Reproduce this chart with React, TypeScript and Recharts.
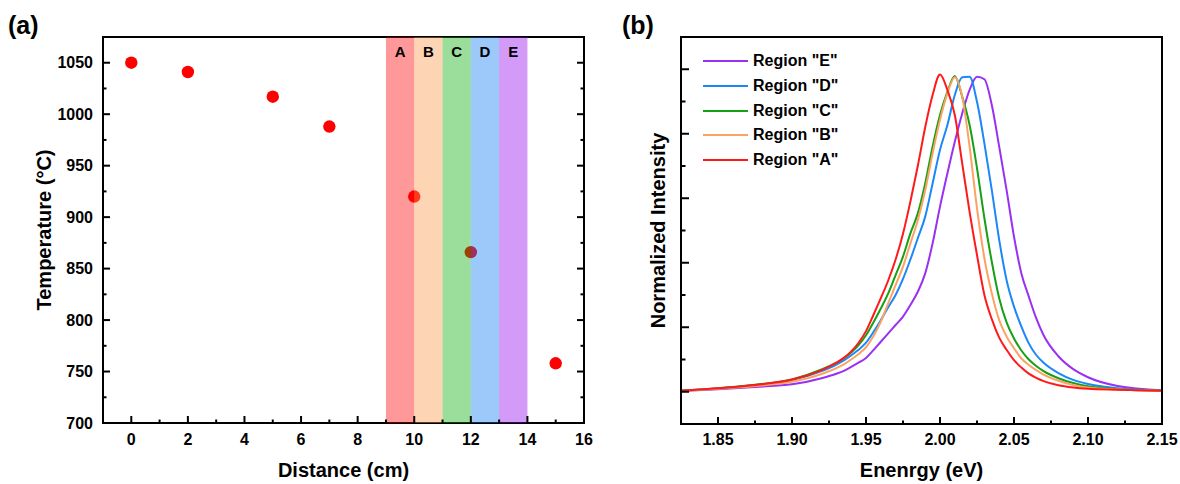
import React from 'react';
import { ScatterChart, Scatter, XAxis, YAxis, ReferenceArea, LineChart, Line, Legend } from 'recharts';

// ---------- Panel (a) data ----------
const distances = [0, 2, 5, 7, 10, 12, 15];
const temperatures = [1050, 1041, 1017, 988, 920, 866, 758];
const bandNames = ['A', 'B', 'C', 'D', 'E'];
const bandStarts = [9, 10, 11, 12, 13];
const bandEnds = [10, 11, 12, 13, 14];
const bandColors = ['#ff0000', '#fa9646', '#05aa05', '#0a75f2', '#9302eb'];
const distanceTicks = [-1, 0, 1, 2, 3, 4, 5, 6, 7, 8, 9, 10, 11, 12, 13, 14, 15, 16];
const temperatureTicks = [700, 725, 750, 775, 800, 825, 850, 875, 900, 925, 950, 975, 1000, 1025, 1050, 1075];

// ---------- Panel (b) data ----------
const energies = [1.825, 1.85, 1.875, 1.9, 1.92, 1.93, 1.935, 1.94, 1.945, 1.95, 1.955, 1.96, 1.965, 1.97, 1.975, 1.98, 1.985, 1.99, 1.995, 2.0, 2.005, 2.01, 2.015, 2.02, 2.025, 2.03, 2.035, 2.04, 2.045, 2.05, 2.055, 2.06, 2.065, 2.07, 2.08, 2.09, 2.1, 2.12, 2.15];
const regionA = [0.003, 0.011, 0.021, 0.038, 0.067, 0.09, 0.105, 0.125, 0.152, 0.188, 0.238, 0.29, 0.345, 0.41, 0.49, 0.59, 0.70, 0.82, 0.92, 0.984, 0.936, 0.858, 0.708, 0.558, 0.424, 0.30, 0.225, 0.168, 0.13, 0.098, 0.075, 0.056, 0.043, 0.033, 0.02, 0.013, 0.009, 0.006, 0.003];
const regionB = [0.002, 0.009, 0.018, 0.031, 0.055, 0.073, 0.085, 0.1, 0.117, 0.138, 0.172, 0.217, 0.274, 0.331, 0.388, 0.46, 0.532, 0.625, 0.739, 0.843, 0.925, 0.975, 0.915, 0.76, 0.569, 0.414, 0.305, 0.222, 0.171, 0.135, 0.103, 0.083, 0.067, 0.053, 0.034, 0.021, 0.013, 0.007, 0.003];
const regionC = [0.003, 0.011, 0.022, 0.038, 0.069, 0.09, 0.104, 0.122, 0.145, 0.175, 0.215, 0.258, 0.305, 0.362, 0.419, 0.491, 0.553, 0.646, 0.76, 0.858, 0.93, 0.979, 0.915, 0.827, 0.693, 0.538, 0.403, 0.29, 0.215, 0.165, 0.128, 0.1, 0.08, 0.064, 0.042, 0.027, 0.017, 0.008, 0.003];
const regionD = [0.003, 0.01, 0.02, 0.036, 0.064, 0.084, 0.097, 0.113, 0.13, 0.152, 0.185, 0.222, 0.262, 0.3, 0.35, 0.41, 0.476, 0.543, 0.646, 0.75, 0.827, 0.92, 0.975, 0.977, 0.899, 0.77, 0.625, 0.471, 0.346, 0.264, 0.202, 0.15, 0.114, 0.09, 0.058, 0.037, 0.024, 0.011, 0.004];
const regionE = [0.002, 0.008, 0.015, 0.023, 0.042, 0.056, 0.065, 0.077, 0.09, 0.105, 0.129, 0.155, 0.181, 0.207, 0.233, 0.269, 0.31, 0.367, 0.46, 0.574, 0.677, 0.775, 0.863, 0.936, 0.977, 0.969, 0.889, 0.76, 0.625, 0.481, 0.367, 0.295, 0.228, 0.175, 0.11, 0.07, 0.045, 0.018, 0.005];
const seriesKeys = ['E', 'D', 'C', 'B', 'A'];
const seriesNames = ['Region "E"', 'Region "D"', 'Region "C"', 'Region "B"', 'Region "A"'];
const seriesColors = ['#9a30f2', '#1a88f8', '#16a016', '#fba264', '#ff1a1a'];
const energyTicks = [1.825, 1.85, 1.875, 1.9, 1.925, 1.95, 1.975, 2.0, 2.025, 2.05, 2.075, 2.1, 2.125, 2.15];
const intensityTicks = [0, 0.1, 0.2, 0.3, 0.4, 0.5, 0.6, 0.7, 0.8, 0.9, 1.0];

const scatterData = distances.map((x, i) => ({ x, y: temperatures[i] }));
const spectrumData = energies.map((e, i) => ({ e, A: regionA[i], B: regionB[i], C: regionC[i], D: regionD[i], E: regionE[i] }));

const FONT = "'Liberation Sans', Arial, Helvetica, sans-serif";
const axisStyle = { stroke: '#000', strokeWidth: 2, strokeLinecap: 'square' as const };
const MAJ = 7;
const MIN = 3.5;

const tickText = { fontFamily: FONT, fontWeight: 700, fontSize: 16, fill: '#000' };

// Panel (a) ticks
const ABottomTick = (p: any) => {
  const v = p.payload.value;
  const major = v % 2 === 0;
  return (
    <g>
      <line x1={p.x} x2={p.x} y1={p.y} y2={p.y - (major ? MAJ : MIN)} stroke="#000" strokeWidth={2} />
      {major && (
        <text x={p.x} y={p.y + 16} textAnchor="middle" dominantBaseline="central" style={tickText}>{v}</text>
      )}
    </g>
  );
};
const ATopTick = (p: any) => {
  const v = p.payload.value;
  const major = v % 2 === 0;
  return <line x1={p.x} x2={p.x} y1={p.y} y2={p.y + (major ? MAJ : MIN)} stroke="#000" strokeWidth={2} />;
};
const ALeftTick = (p: any) => {
  const v = p.payload.value;
  const major = v % 50 === 0;
  return (
    <g>
      <line x1={p.x} x2={p.x + (major ? MAJ : MIN)} y1={p.y} y2={p.y} stroke="#000" strokeWidth={2} />
      {major && (
        <text x={p.x - 10} y={p.y} textAnchor="end" dominantBaseline="central" style={tickText}>{v}</text>
      )}
    </g>
  );
};
const ARightTick = (p: any) => {
  const v = p.payload.value;
  const major = v % 50 === 0;
  return <line x1={p.x} x2={p.x - (major ? MAJ : MIN)} y1={p.y} y2={p.y} stroke="#000" strokeWidth={2} />;
};

// Panel (b) ticks
const BBottomTick = (p: any) => {
  const v = p.payload.value;
  const major = Math.round(v * 1000) % 50 === 0;
  return (
    <g>
      <line x1={p.x} x2={p.x} y1={p.y} y2={p.y - (major ? MAJ : MIN)} stroke="#000" strokeWidth={2} />
      {major && (
        <text x={p.x} y={p.y + 15} textAnchor="middle" dominantBaseline="central" style={tickText}>{v.toFixed(2)}</text>
      )}
    </g>
  );
};
const BLeftTick = (p: any) => {
  const v = p.payload.value;
  const major = Math.round(v * 10) % 2 === 0;
  return <line x1={p.x} x2={p.x + (major ? 8 : 4.5)} y1={p.y} y2={p.y} stroke="#000" strokeWidth={2} />;
};

const titleStyle = { fontFamily: FONT, fontWeight: 700, fontSize: 20, fill: '#000' };

const xTitle = (text: string, dy: number) => (props: any) => {
  const vb = props.viewBox;
  return (
    <text x={vb.x + vb.width / 2} y={vb.y + dy} textAnchor="middle" dominantBaseline="central" style={titleStyle}>{text}</text>
  );
};
const yTitle = (text: string, dx: number) => (props: any) => {
  const vb = props.viewBox;
  const cx = vb.x + vb.width + dx;
  const cy = vb.y + vb.height / 2;
  return (
    <text transform={`translate(${cx},${cy}) rotate(-90)`} x={0} y={0} textAnchor="middle" dominantBaseline="central" style={titleStyle}>{text}</text>
  );
};

const Dot = (p: any) => <circle cx={p.cx} cy={p.cy} r={6.2} fill="#ff0000" />;

const LegendContent = (props: any) => {
  const payload = [...(props.payload || [])].sort(
    (a: any, b: any) => seriesNames.indexOf(a.value) - seriesNames.indexOf(b.value)
  );
  return (
    <div style={{ fontFamily: FONT, fontWeight: 700, fontSize: 16, color: '#000' }}>
      {payload.map((entry: any) => (
        <div key={entry.value} style={{ display: 'flex', alignItems: 'center', height: 24.7, whiteSpace: 'nowrap' }}>
          <svg width={50} height={4} style={{ display: 'block' }}>
            <line x1={0} x2={45} y1={2} y2={2} stroke={entry.color} strokeWidth={2.2} />
          </svg>
          <span>{entry.value}</span>
        </div>
      ))}
    </div>
  );
};

export default function App() {
  return (
    <div style={{ position: 'absolute', left: 0, top: 0, width: 1180, height: 484, background: '#fff', overflow: 'hidden' }}>
      <div style={{ position: 'absolute', left: 0, top: 0 }}>
        <ScatterChart width={600} height={484} margin={{ top: 36, right: 15, bottom: 60, left: 102 }}>
          <XAxis
            type="number" dataKey="x" domain={[-1, 16]} ticks={distanceTicks} interval={0} allowDataOverflow
            height={1} tickSize={0} tickMargin={0} tickLine={false} axisLine={axisStyle} tick={ABottomTick}
            label={xTitle('Distance (cm)', 47)}
          />
          <XAxis
            xAxisId="top" orientation="top" type="number" domain={[-1, 16]} ticks={distanceTicks} interval={0} allowDataOverflow
            height={1} tickSize={0} tickMargin={0} tickLine={false} axisLine={axisStyle} tick={ATopTick}
          />
          <YAxis
            type="number" dataKey="y" domain={[700, 1075]} ticks={temperatureTicks} interval={0} allowDataOverflow
            width={1} tickSize={0} tickMargin={0} tickLine={false} axisLine={axisStyle} tick={ALeftTick}
            label={yTitle('Temperature (°C)', -59)}
          />
          <YAxis
            yAxisId="right" orientation="right" type="number" domain={[700, 1075]} ticks={temperatureTicks} interval={0} allowDataOverflow
            width={1} tickSize={0} tickMargin={0} tickLine={false} axisLine={axisStyle} tick={ARightTick}
          />
          <Scatter data={scatterData} dataKey="y" shape={Dot} isAnimationActive={false} />
          {bandNames.map((name, i) => (
            <ReferenceArea
              key={name}
              x1={bandStarts[i]}
              x2={bandEnds[i]}
              y1={700}
              y2={1075}
              fill={bandColors[i]}
              fillOpacity={0.4}
              stroke="none"
              ifOverflow="visible"
              zIndex={650}
              label={{ value: name, position: 'insideTop', offset: 9, style: { fontFamily: FONT, fontWeight: 700, fontSize: 15, fill: '#000' } }}
            />
          ))}
        </ScatterChart>
      </div>

      <div style={{ position: 'absolute', left: 600, top: 0 }}>
        <LineChart width={580} height={484} data={spectrumData} margin={{ top: 36, right: 17, bottom: 59, left: 80 }}>
          <XAxis
            type="number" dataKey="e" domain={[1.825, 2.15]} ticks={energyTicks} interval={0} allowDataOverflow
            height={1} tickSize={0} tickMargin={0} tickLine={false} axisLine={axisStyle} tick={BBottomTick}
            label={xTitle('Enenrgy (eV)', 46)}
          />
          <XAxis
            xAxisId="top" orientation="top" type="number" dataKey="e" domain={[1.825, 2.15]} allowDataOverflow
            height={1} tick={false} tickLine={false} axisLine={axisStyle}
          />
          <YAxis
            type="number" domain={[-0.1, 1.1]} ticks={intensityTicks} interval={0} allowDataOverflow
            width={1} tickSize={0} tickMargin={0} tickLine={false} axisLine={axisStyle} tick={BLeftTick}
            label={yTitle('Normalized Intensity', -23)}
          />
          <YAxis
            yAxisId="right" orientation="right" type="number" domain={[-0.1, 1.1]} allowDataOverflow
            width={1} tick={false} tickLine={false} axisLine={axisStyle}
          />
          {seriesKeys.map((k, i) => (
            <Line
              key={k}
              type="monotone"
              dataKey={k}
              name={seriesNames[i]}
              stroke={seriesColors[i]}
              strokeWidth={2}
              dot={false}
              activeDot={false}
              isAnimationActive={false}
            />
          ))}
          <Legend
            layout="vertical"
            align="center"
            verticalAlign="middle"
            content={LegendContent}
            wrapperStyle={{ left: 103, top: 49, width: 'auto', height: 'auto' }}
          />
        </LineChart>
      </div>

      <div style={{ position: 'absolute', left: 8, top: 10, fontFamily: FONT, fontWeight: 700, fontSize: 25, lineHeight: '30px', color: '#000' }}>(a)</div>
      <div style={{ position: 'absolute', left: 622, top: 10, fontFamily: FONT, fontWeight: 700, fontSize: 25, lineHeight: '30px', color: '#000' }}>(b)</div>
    </div>
  );
}
